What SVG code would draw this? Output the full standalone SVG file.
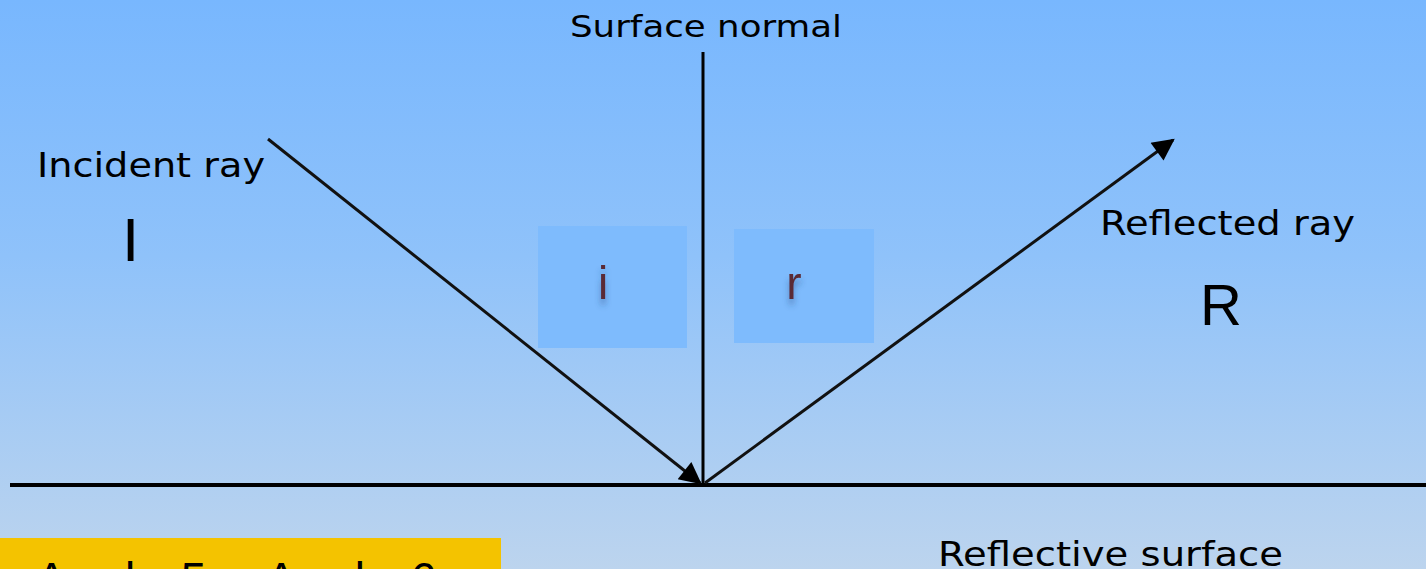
<svg xmlns="http://www.w3.org/2000/svg" width="1426" height="569" viewBox="0 0 1426 569">
<defs>
<linearGradient id="bg" x1="0" y1="0" x2="0" y2="1">
<stop offset="0" stop-color="#78b7fe"/>
<stop offset="0.45" stop-color="#8fc2fa"/>
<stop offset="1" stop-color="#bcd4ee"/>
</linearGradient>
<marker id="arr" viewBox="0 0 10 10" refX="9" refY="5" markerWidth="28" markerHeight="22" markerUnits="userSpaceOnUse" orient="auto">
<path d="M0,0 L10,5 L0,10 z" fill="#000"/>
</marker>
<filter id="sh" x="-100%" y="-50%" width="300%" height="200%">
<feGaussianBlur in="SourceAlpha" stdDeviation="3"/>
<feOffset dx="0" dy="6" result="b"/>
<feFlood flood-color="#2a4a80" flood-opacity="0.5"/>
<feComposite in2="b" operator="in" result="s"/>
<feMerge><feMergeNode in="s"/><feMergeNode in="SourceGraphic"/></feMerge>
</filter>
<style>
.lbl{font-family:"DejaVu Sans","Liberation Sans",sans-serif;fill:#000;}
.big{font-family:"Liberation Sans","DejaVu Sans",sans-serif;fill:#000;}
.ang{font-family:"Liberation Sans","DejaVu Sans",sans-serif;fill:#5a2a35;font-size:46px;}
.box{fill:#7ebbfd;}
.ray{stroke:#111;stroke-width:3;fill:none;}
</style>
</defs>
<rect width="1426" height="569" fill="url(#bg)"/>
<g id="angle-boxes">
<g id="angle-i"><rect class="box" x="538" y="226" width="149" height="122"/><text class="ang" x="603" y="299" text-anchor="middle" filter="url(#sh)">i</text></g>
<g id="angle-r"><rect class="box" x="734" y="229" width="140" height="114"/><text class="ang" x="794" y="299" text-anchor="middle" filter="url(#sh)">r</text></g>
</g>
<g id="connectors">
<line id="surface" x1="10" y1="485" x2="1426" y2="485" stroke="#000" stroke-width="4"/>
<line id="normal" x1="703" y1="52" x2="703" y2="485" stroke="#000" stroke-width="3"/>
<line id="incident" class="ray" x1="268" y1="139" x2="700" y2="483" marker-end="url(#arr)"/>
<line id="reflected" class="ray" x1="705" y1="483" x2="1173" y2="140" marker-end="url(#arr)"/>
</g>
<g id="label-normal"><text class="lbl" x="570" y="37" font-size="31" textLength="272" lengthAdjust="spacingAndGlyphs">Surface normal</text></g>
<g id="label-incident"><text class="lbl" x="37" y="177" font-size="33" textLength="228" lengthAdjust="spacingAndGlyphs">Incident ray</text>
<text class="big" x="122" y="261" font-size="62">I</text></g>
<g id="label-reflected"><text class="lbl" x="1100" y="235" font-size="33" textLength="255" lengthAdjust="spacingAndGlyphs">Reflected ray</text>
<text class="big" x="1200" y="325" font-size="58">R</text></g>
<g id="label-surface"><text class="lbl" x="938" y="566" font-size="33" textLength="345" lengthAdjust="spacingAndGlyphs">Reflective surface</text></g>
<g id="note"><rect x="0" y="538" width="501" height="31" fill="#f4c300"/>
<text class="big" x="36" y="595" font-size="46" textLength="400" lengthAdjust="spacing">Angle 5 = Angle 6</text></g>
</svg>
